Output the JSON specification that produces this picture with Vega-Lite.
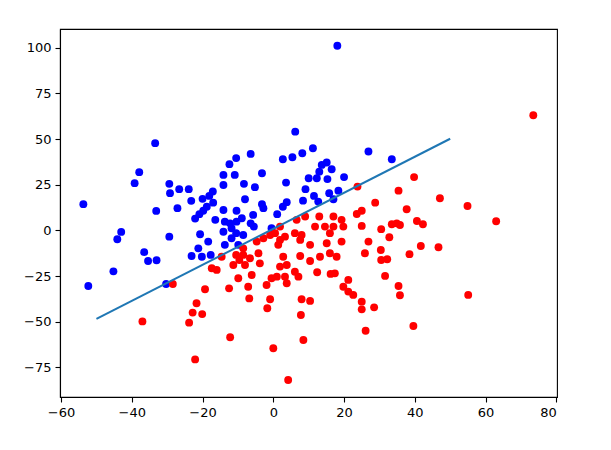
{
  "$schema": "https://vega.github.io/schema/vega-lite/v6.json",
  "autosize": {"type": "none"},
  "padding": {"left": 60, "top": 29, "right": 54, "bottom": 53},
  "width": 497,
  "height": 368,
  "background": "white",
  "config": {
    "view": {"stroke": "black", "strokeWidth": 1.1},
    "axis": {
      "grid": false,
      "domainColor": "black",
      "domainWidth": 1.1,
      "tickColor": "black",
      "tickWidth": 1.1,
      "tickSize": 5,
      "labelFont": "DejaVu Sans",
      "labelFontSize": 13,
      "labelColor": "black",
      "labelPadding": 4,
      "title": null
    }
  },
  "datasets": {
    "pts": [
      {"x": -33.4, "y": 47.8, "c": "blue"},
      {"x": -37.9, "y": 31.9, "c": "blue"},
      {"x": -39.2, "y": 25.9, "c": "blue"},
      {"x": -53.7, "y": 14.4, "c": "blue"},
      {"x": -33.1, "y": 10.7, "c": "blue"},
      {"x": -43.0, "y": -0.8, "c": "blue"},
      {"x": -44.1, "y": -4.8, "c": "blue"},
      {"x": -36.5, "y": -11.9, "c": "blue"},
      {"x": -35.4, "y": -16.7, "c": "blue"},
      {"x": -33.0, "y": -16.3, "c": "blue"},
      {"x": -45.2, "y": -22.4, "c": "blue"},
      {"x": -52.3, "y": -30.4, "c": "blue"},
      {"x": -30.3, "y": -29.3, "c": "blue"},
      {"x": -10.5, "y": 39.6, "c": "blue"},
      {"x": -12.4, "y": 36.3, "c": "blue"},
      {"x": -14.1, "y": 30.4, "c": "blue"},
      {"x": -10.9, "y": 30.4, "c": "blue"},
      {"x": -29.4, "y": 25.5, "c": "blue"},
      {"x": -14.1, "y": 24.9, "c": "blue"},
      {"x": -29.2, "y": 20.4, "c": "blue"},
      {"x": -26.6, "y": 22.6, "c": "blue"},
      {"x": -23.9, "y": 22.6, "c": "blue"},
      {"x": -17.1, "y": 21.3, "c": "blue"},
      {"x": -18.1, "y": 18.9, "c": "blue"},
      {"x": -20.0, "y": 17.3, "c": "blue"},
      {"x": -23.2, "y": 16.2, "c": "blue"},
      {"x": -17.0, "y": 15.2, "c": "blue"},
      {"x": -27.1, "y": 12.2, "c": "blue"},
      {"x": -18.8, "y": 13.0, "c": "blue"},
      {"x": -19.8, "y": 10.8, "c": "blue"},
      {"x": -20.9, "y": 8.9, "c": "blue"},
      {"x": -22.1, "y": 6.5, "c": "blue"},
      {"x": -14.1, "y": 11.2, "c": "blue"},
      {"x": -16.4, "y": 5.8, "c": "blue"},
      {"x": -13.7, "y": 4.8, "c": "blue"},
      {"x": -12.2, "y": 3.9, "c": "blue"},
      {"x": -14.1, "y": -0.7, "c": "blue"},
      {"x": -11.8, "y": 1.2, "c": "blue"},
      {"x": -10.5, "y": -1.5, "c": "blue"},
      {"x": -10.4, "y": 4.8, "c": "blue"},
      {"x": -20.7, "y": -2.1, "c": "blue"},
      {"x": -18.4, "y": -6.1, "c": "blue"},
      {"x": -29.4, "y": -3.4, "c": "blue"},
      {"x": -11.8, "y": -4.3, "c": "blue"},
      {"x": -13.7, "y": -7.9, "c": "blue"},
      {"x": -21.2, "y": -9.8, "c": "blue"},
      {"x": -9.9, "y": -7.9, "c": "blue"},
      {"x": -23.1, "y": -14.0, "c": "blue"},
      {"x": -20.2, "y": -14.4, "c": "blue"},
      {"x": -17.7, "y": -13.4, "c": "blue"},
      {"x": 6.2, "y": 54.1, "c": "blue"},
      {"x": -6.4, "y": 41.9, "c": "blue"},
      {"x": 2.7, "y": 39.0, "c": "blue"},
      {"x": 5.4, "y": 40.1, "c": "blue"},
      {"x": 8.2, "y": 42.3, "c": "blue"},
      {"x": 11.2, "y": 45.0, "c": "blue"},
      {"x": -3.2, "y": 31.3, "c": "blue"},
      {"x": -8.3, "y": 25.5, "c": "blue"},
      {"x": -5.2, "y": 23.7, "c": "blue"},
      {"x": 3.6, "y": 26.2, "c": "blue"},
      {"x": 10.0, "y": 28.6, "c": "blue"},
      {"x": 9.1, "y": 22.6, "c": "blue"},
      {"x": -8.0, "y": 17.1, "c": "blue"},
      {"x": -3.2, "y": 14.4, "c": "blue"},
      {"x": -2.8, "y": 12.2, "c": "blue"},
      {"x": 3.8, "y": 15.5, "c": "blue"},
      {"x": 2.7, "y": 13.0, "c": "blue"},
      {"x": 8.4, "y": 16.3, "c": "blue"},
      {"x": -10.4, "y": 10.8, "c": "blue"},
      {"x": 1.1, "y": 8.9, "c": "blue"},
      {"x": -5.7, "y": 8.5, "c": "blue"},
      {"x": -8.9, "y": 6.7, "c": "blue"},
      {"x": -6.4, "y": 3.9, "c": "blue"},
      {"x": -5.5, "y": 2.1, "c": "blue"},
      {"x": -8.5, "y": -2.5, "c": "blue"},
      {"x": -0.5, "y": 1.2, "c": "blue"},
      {"x": 26.9, "y": 43.2, "c": "blue"},
      {"x": 13.7, "y": 35.9, "c": "blue"},
      {"x": 15.1, "y": 37.2, "c": "blue"},
      {"x": 16.5, "y": 33.5, "c": "blue"},
      {"x": 13.0, "y": 32.2, "c": "blue"},
      {"x": 12.3, "y": 28.6, "c": "blue"},
      {"x": 15.3, "y": 28.1, "c": "blue"},
      {"x": 20.0, "y": 29.2, "c": "blue"},
      {"x": 18.4, "y": 21.8, "c": "blue"},
      {"x": 15.8, "y": 20.4, "c": "blue"},
      {"x": 11.5, "y": 18.9, "c": "blue"},
      {"x": 17.0, "y": 17.1, "c": "blue"},
      {"x": 12.7, "y": 15.8, "c": "blue"},
      {"x": 33.5, "y": 39.0, "c": "blue"},
      {"x": 18.1, "y": 101.1, "c": "blue"},
      {"x": -37.0, "y": -49.8, "c": "red"},
      {"x": -14.6, "y": -14.4, "c": "red"},
      {"x": -10.5, "y": -13.4, "c": "red"},
      {"x": -11.3, "y": -18.9, "c": "red"},
      {"x": -9.6, "y": -16.2, "c": "red"},
      {"x": -17.4, "y": -20.7, "c": "red"},
      {"x": -16.0, "y": -21.6, "c": "red"},
      {"x": -9.9, "y": -26.2, "c": "red"},
      {"x": -28.4, "y": -29.3, "c": "red"},
      {"x": -19.3, "y": -32.2, "c": "red"},
      {"x": -12.5, "y": -31.7, "c": "red"},
      {"x": -21.7, "y": -39.9, "c": "red"},
      {"x": -22.8, "y": -45.0, "c": "red"},
      {"x": -20.1, "y": -45.8, "c": "red"},
      {"x": -23.8, "y": -50.5, "c": "red"},
      {"x": -12.2, "y": -58.5, "c": "red"},
      {"x": -22.1, "y": -70.6, "c": "red"},
      {"x": 1.9, "y": 2.1, "c": "red"},
      {"x": 6.6, "y": 5.8, "c": "red"},
      {"x": 9.0, "y": 7.6, "c": "red"},
      {"x": 0.5, "y": -1.5, "c": "red"},
      {"x": -2.8, "y": -4.3, "c": "red"},
      {"x": -4.7, "y": -6.1, "c": "red"},
      {"x": 1.9, "y": -5.2, "c": "red"},
      {"x": 6.1, "y": -1.5, "c": "red"},
      {"x": 8.0, "y": -2.5, "c": "red"},
      {"x": 1.4, "y": -7.9, "c": "red"},
      {"x": -8.5, "y": -9.8, "c": "red"},
      {"x": 3.3, "y": -3.4, "c": "red"},
      {"x": -0.9, "y": -2.5, "c": "red"},
      {"x": 7.6, "y": -5.2, "c": "red"},
      {"x": 2.8, "y": -14.4, "c": "red"},
      {"x": 7.6, "y": -14.0, "c": "red"},
      {"x": 10.4, "y": -16.7, "c": "red"},
      {"x": -8.5, "y": -13.4, "c": "red"},
      {"x": -4.2, "y": -12.5, "c": "red"},
      {"x": -6.6, "y": -15.2, "c": "red"},
      {"x": -3.8, "y": -18.0, "c": "red"},
      {"x": -8.0, "y": -18.9, "c": "red"},
      {"x": 1.9, "y": -19.8, "c": "red"},
      {"x": 3.8, "y": -18.9, "c": "red"},
      {"x": 6.1, "y": -22.6, "c": "red"},
      {"x": 7.1, "y": -25.3, "c": "red"},
      {"x": -0.5, "y": -26.2, "c": "red"},
      {"x": 1.0, "y": -25.3, "c": "red"},
      {"x": 3.3, "y": -25.3, "c": "red"},
      {"x": 3.8, "y": -28.9, "c": "red"},
      {"x": -1.9, "y": -29.9, "c": "red"},
      {"x": -6.1, "y": -24.4, "c": "red"},
      {"x": -7.1, "y": -30.8, "c": "red"},
      {"x": -6.8, "y": -37.2, "c": "red"},
      {"x": -0.9, "y": -37.7, "c": "red"},
      {"x": -1.7, "y": -42.6, "c": "red"},
      {"x": 8.0, "y": -37.7, "c": "red"},
      {"x": 10.4, "y": -38.6, "c": "red"},
      {"x": 7.8, "y": -46.3, "c": "red"},
      {"x": 8.5, "y": -60.0, "c": "red"},
      {"x": 0.0, "y": -64.5, "c": "red"},
      {"x": 4.2, "y": -81.9, "c": "red"},
      {"x": 23.8, "y": 24.0, "c": "red"},
      {"x": 28.8, "y": 15.2, "c": "red"},
      {"x": 25.0, "y": 10.8, "c": "red"},
      {"x": 23.6, "y": 9.0, "c": "red"},
      {"x": 13.0, "y": 7.6, "c": "red"},
      {"x": 17.0, "y": 7.6, "c": "red"},
      {"x": 19.3, "y": 5.8, "c": "red"},
      {"x": 25.0, "y": 2.5, "c": "red"},
      {"x": 30.5, "y": 0.7, "c": "red"},
      {"x": 11.8, "y": 2.1, "c": "red"},
      {"x": 14.6, "y": 2.1, "c": "red"},
      {"x": 17.0, "y": 2.1, "c": "red"},
      {"x": 19.8, "y": 2.1, "c": "red"},
      {"x": 16.0, "y": -1.5, "c": "red"},
      {"x": 26.9, "y": -6.1, "c": "red"},
      {"x": 19.3, "y": -6.1, "c": "red"},
      {"x": 15.1, "y": -7.0, "c": "red"},
      {"x": 10.4, "y": -7.9, "c": "red"},
      {"x": 13.2, "y": -14.4, "c": "red"},
      {"x": 16.0, "y": -12.5, "c": "red"},
      {"x": 17.9, "y": -14.4, "c": "red"},
      {"x": 25.9, "y": -12.5, "c": "red"},
      {"x": 30.5, "y": -16.2, "c": "red"},
      {"x": 12.4, "y": -22.9, "c": "red"},
      {"x": 16.2, "y": -23.8, "c": "red"},
      {"x": 17.4, "y": -23.5, "c": "red"},
      {"x": 21.2, "y": -27.1, "c": "red"},
      {"x": 19.8, "y": -30.8, "c": "red"},
      {"x": 21.2, "y": -33.5, "c": "red"},
      {"x": 22.6, "y": -35.3, "c": "red"},
      {"x": 25.0, "y": -39.0, "c": "red"},
      {"x": 25.0, "y": -43.2, "c": "red"},
      {"x": 28.5, "y": -42.1, "c": "red"},
      {"x": 26.1, "y": -54.9, "c": "red"},
      {"x": 39.8, "y": 29.2, "c": "red"},
      {"x": 35.4, "y": 21.8, "c": "red"},
      {"x": 47.1, "y": 17.6, "c": "red"},
      {"x": 54.9, "y": 13.4, "c": "red"},
      {"x": 37.7, "y": 11.6, "c": "red"},
      {"x": 33.5, "y": 3.4, "c": "red"},
      {"x": 34.9, "y": 3.9, "c": "red"},
      {"x": 35.8, "y": 3.0, "c": "red"},
      {"x": 40.6, "y": 5.2, "c": "red"},
      {"x": 42.3, "y": 3.4, "c": "red"},
      {"x": 32.8, "y": -3.7, "c": "red"},
      {"x": 41.7, "y": -8.5, "c": "red"},
      {"x": 46.7, "y": -9.2, "c": "red"},
      {"x": 30.4, "y": -10.7, "c": "red"},
      {"x": 38.5, "y": -13.0, "c": "red"},
      {"x": 32.2, "y": -15.8, "c": "red"},
      {"x": 31.6, "y": -24.9, "c": "red"},
      {"x": 35.4, "y": -30.4, "c": "red"},
      {"x": 35.8, "y": -35.5, "c": "red"},
      {"x": 55.1, "y": -35.3, "c": "red"},
      {"x": 39.6, "y": -52.3, "c": "red"},
      {"x": 73.5, "y": 63.1, "c": "red"},
      {"x": 63.0, "y": 5.0, "c": "red"}
    ],
    "line": [
      {"x": -50, "y": -48.4},
      {"x": 50, "y": 50.2}
    ]
  },
  "layer": [
    {
      "data": {"name": "pts"},
      "mark": {"type": "point", "filled": true, "opacity": 1, "size": 62, "strokeWidth": 0},
      "encoding": {
        "x": {"field": "x", "type": "quantitative",
              "scale": {"domain": [-60.3, 80.2], "nice": false, "zero": false},
              "axis": {"values": [-60, -40, -20, 0, 20, 40, 60, 80]}},
        "y": {"field": "y", "type": "quantitative",
              "scale": {"domain": [-91.2, 110.3], "nice": false, "zero": false},
              "axis": {"values": [-75, -50, -25, 0, 25, 50, 75, 100]}},
        "color": {"field": "c", "type": "nominal",
                  "scale": {"domain": ["blue", "red"], "range": ["#0000ff", "#ff0000"]},
                  "legend": null}
      }
    },
    {
      "data": {"name": "line"},
      "mark": {"type": "line", "color": "#1f77b4", "strokeWidth": 2},
      "encoding": {
        "x": {"field": "x", "type": "quantitative"},
        "y": {"field": "y", "type": "quantitative"}
      }
    }
  ]
}
